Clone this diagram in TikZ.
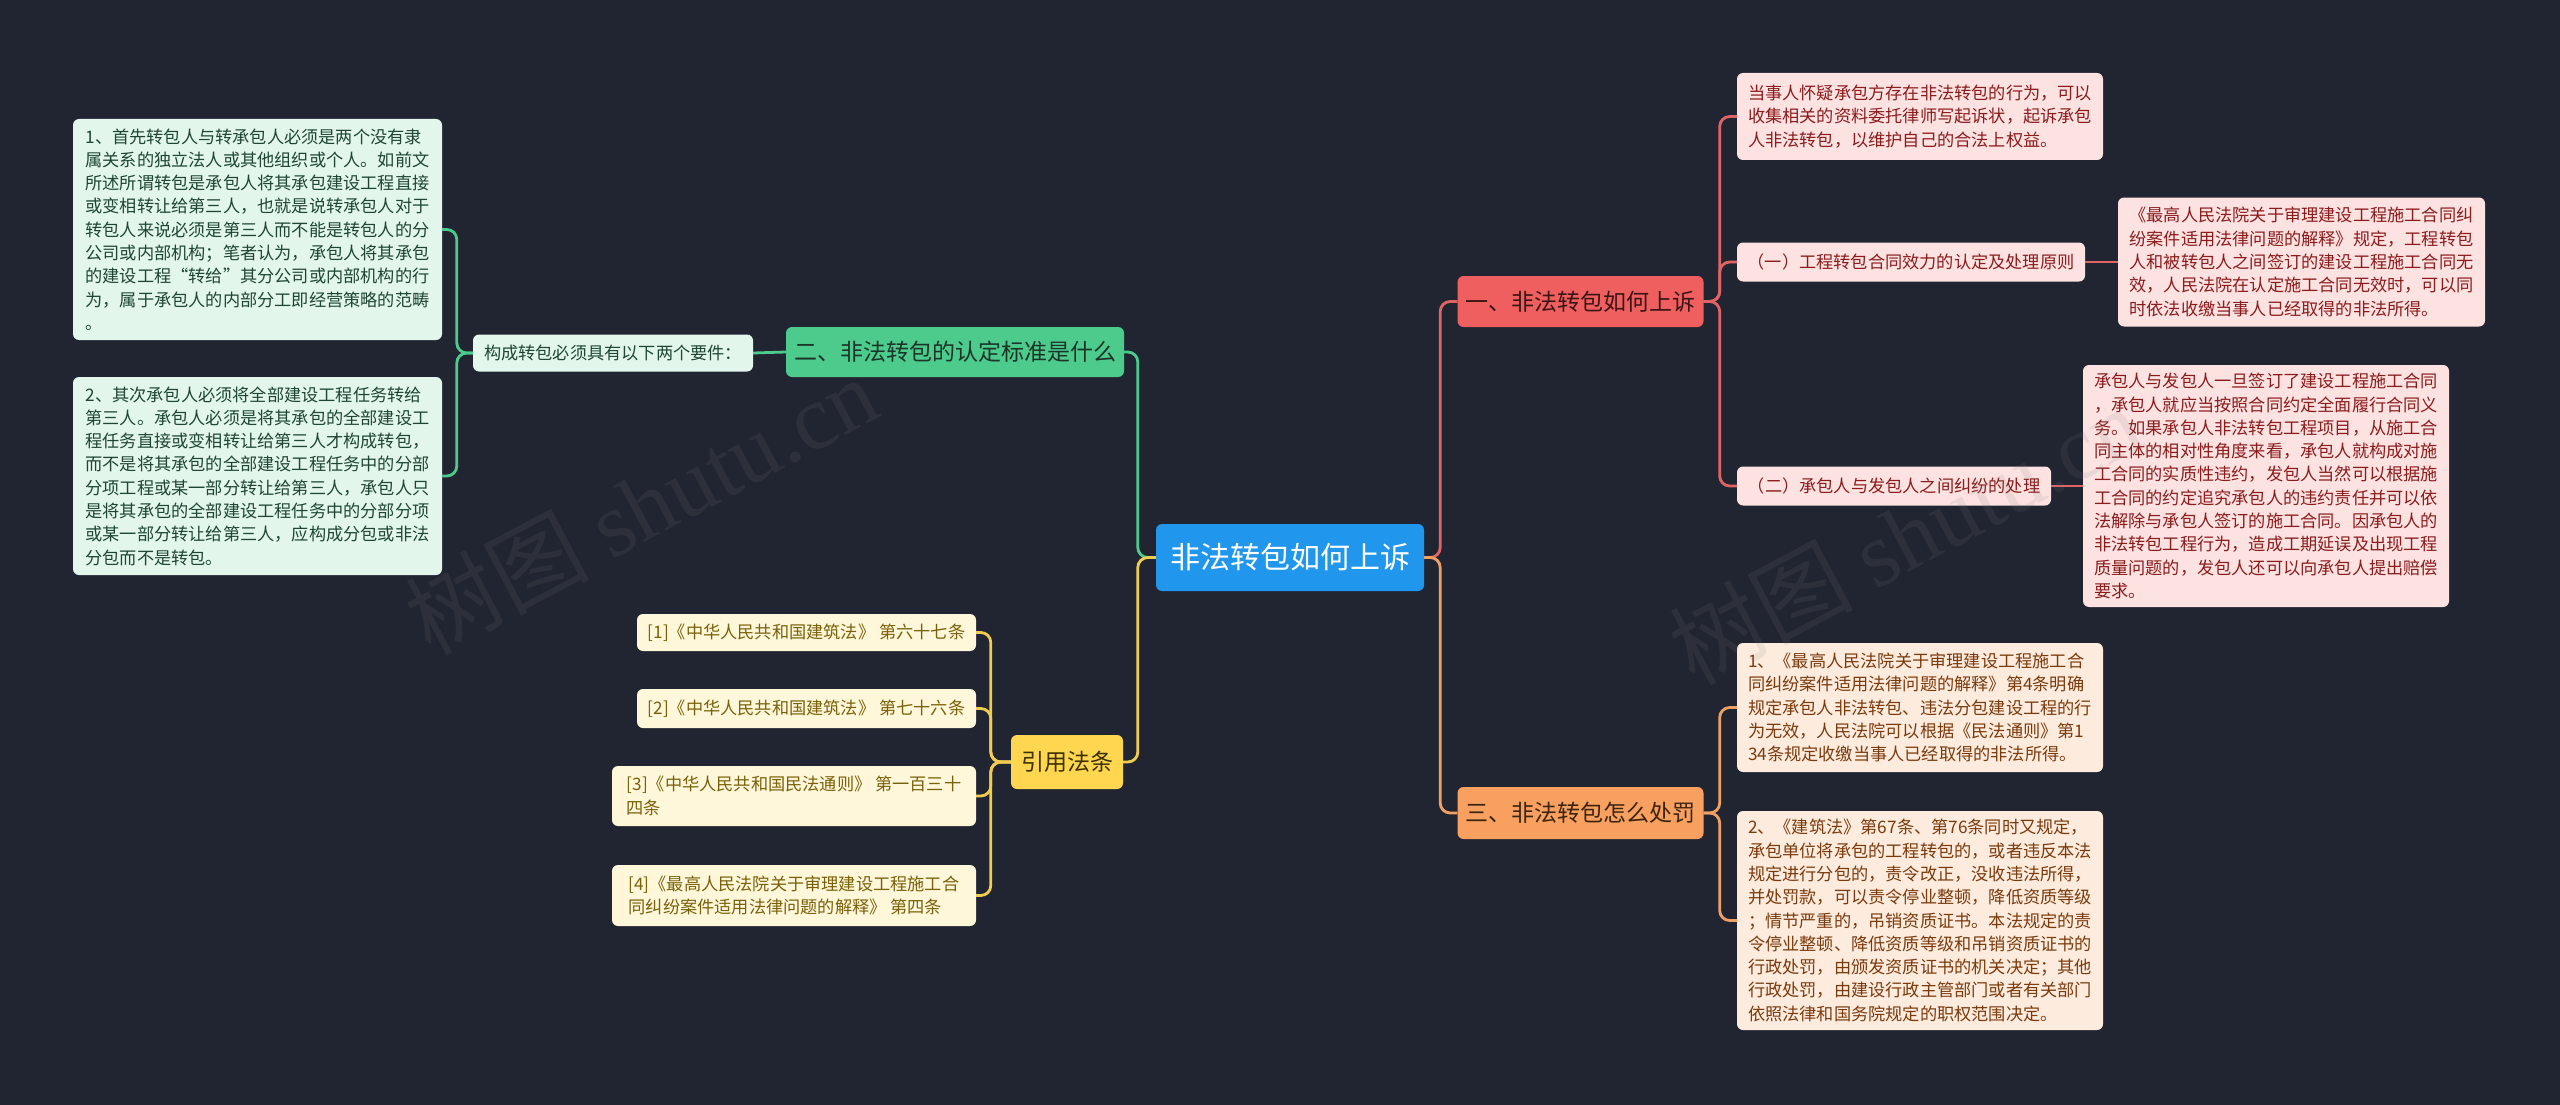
\documentclass[tikz,border=0pt]{standalone}
\usepackage{fontspec}
\setmainfont{Noto Sans CJK SC}
\newfontfamily\wmlatin{Liberation Serif}
\definecolor{bgc}{RGB}{33,37,49}
\definecolor{cblue}{RGB}{32,150,236}
\definecolor{gmain}{RGB}{76,203,141}
\definecolor{gleaf}{RGB}{226,246,236}
\definecolor{gtext}{RGB}{30,70,50}
\definecolor{gdark}{RGB}{28,52,40}
\definecolor{ymain}{RGB}{255,214,80}
\definecolor{yleaf}{RGB}{255,247,218}
\definecolor{ytext}{RGB}{122,96,8}
\definecolor{ydark}{RGB}{60,48,0}
\definecolor{yline}{RGB}{240,205,80}
\definecolor{rmain}{RGB}{240,95,95}
\definecolor{rleaf}{RGB}{253,226,226}
\definecolor{rtext}{RGB}{138,28,28}
\definecolor{rdark}{RGB}{58,21,21}
\definecolor{rline}{RGB}{225,100,100}
\definecolor{omain}{RGB}{247,160,95}
\definecolor{oleaf}{RGB}{253,236,222}
\definecolor{otext}{RGB}{122,58,12}
\definecolor{odark}{RGB}{61,36,16}
\definecolor{oline}{RGB}{240,160,100}
\tikzset{
  x=1pt, y=-1pt,
  basebox/.style={rounded corners=6pt, inner xsep=8pt, inner ysep=0pt, align=left},
  leaf/.style={basebox, font=\fontsize{17.2}{23.3}\selectfont},
  mid/.style={basebox, font=\fontsize{23}{28}\selectfont},
  gleafbox/.style={leaf, fill=gleaf, text=gtext},
  yleafbox/.style={leaf, fill=yleaf, text=ytext},
  rleafbox/.style={leaf, fill=rleaf, text=rtext},
  oleafbox/.style={leaf, fill=oleaf, text=otext},
  conn/.style={line width=2.8pt, rounded corners=10pt},
  gconn/.style={conn, draw=gmain},
  yconn/.style={conn, draw=yline},
  rconn/.style={conn, draw=rline},
  oconn/.style={conn, draw=oline},
}
\begin{document}
\begin{tikzpicture}
\useasboundingbox (0,0) rectangle (2560,1105);
\fill[bgc] (0,0) rectangle (2560,1105);

% central
\node[basebox, fill=cblue, text=white, font=\fontsize{30}{36}\selectfont, minimum width=268pt, minimum height=67pt] (c) at (1290,557.5) {非法转包如何上诉};

% green branch
\node[mid, fill=gmain, text=gdark, minimum width=336pt, minimum height=50pt] (gb) at (955,352) {二、非法转包的认定标准是什么};
\node[gleafbox, minimum width=280pt, minimum height=37pt] (gk) at (613,353) {构成转包必须具有以下两个要件：};
\node[gleafbox, minimum width=369pt, minimum height=221pt] (g1) at (257.5,229.5) {1、首先转包人与转承包人必须是两个没有隶\\属关系的独立法人或其他组织或个人。如前文\\所述所谓转包是承包人将其承包建设工程直接\\或变相转让给第三人，也就是说转承包人对于\\转包人来说必须是第三人而不能是转包人的分\\公司或内部机构；笔者认为，承包人将其承包\\的建设工程“转给”其分公司或内部机构的行\\为，属于承包人的内部分工即经营策略的范畴\\。};
\node[gleafbox, minimum width=369pt, minimum height=198pt] (g2) at (257.5,476) {2、其次承包人必须将全部建设工程任务转给\\第三人。承包人必须是将其承包的全部建设工\\程任务直接或变相转让给第三人才构成转包，\\而不是将其承包的全部建设工程任务中的分部\\分项工程或某一部分转让给第三人，承包人只\\是将其承包的全部建设工程任务中的分部分项\\或某一部分转让给第三人，应构成分包或非法\\分包而不是转包。};

% yellow branch
\node[mid, fill=ymain, text=ydark, minimum width=112pt, minimum height=54pt] (yb) at (1067,762) {引用法条};
\node[yleafbox, minimum width=339pt, minimum height=37pt] (y1) at (806.5,632.5) {[1]《中华人民共和国建筑法》 第六十七条};
\node[yleafbox, minimum width=339pt, minimum height=39pt] (y2) at (806.5,708.5) {[2]《中华人民共和国建筑法》 第七十六条};
\node[yleafbox, minimum width=364pt, minimum height=60pt] (y3) at (794,796) {[3]《中华人民共和国民法通则》 第一百三十\\四条};
\node[yleafbox, minimum width=364pt, minimum height=61pt] (y4) at (794,895.5) {[4]《最高人民法院关于审理建设工程施工合\\同纠纷案件适用法律问题的解释》 第四条};

% red branch
\node[mid, fill=rmain, text=rdark, minimum width=245pt, minimum height=51pt] (rb) at (1580.5,301.5) {一、非法转包如何上诉};
\node[rleafbox, minimum width=366pt, minimum height=87pt] (r1) at (1920,116.5) {当事人怀疑承包方存在非法转包的行为，可以\\收集相关的资料委托律师写起诉状，起诉承包\\人非法转包，以维护自己的合法上权益。};
\node[rleafbox, minimum width=348pt, minimum height=39pt] (r2) at (1911,262) {（一）工程转包合同效力的认定及处理原则};
\node[rleafbox, minimum width=367pt, minimum height=129pt] (r2c) at (2301.5,262) {《最高人民法院关于审理建设工程施工合同纠\\纷案件适用法律问题的解释》规定，工程转包\\人和被转包人之间签订的建设工程施工合同无\\效，人民法院在认定施工合同无效时，可以同\\时依法收缴当事人已经取得的非法所得。};
\node[rleafbox, minimum width=314pt, minimum height=39pt] (r3) at (1894,486) {（二）承包人与发包人之间纠纷的处理};
\node[rleafbox, minimum width=366pt, minimum height=242pt] (r3c) at (2266,486) {承包人与发包人一旦签订了建设工程施工合同\\，承包人就应当按照合同约定全面履行合同义\\务。如果承包人非法转包工程项目，从施工合\\同主体的相对性角度来看，承包人就构成对施\\工合同的实质性违约，发包人当然可以根据施\\工合同的约定追究承包人的违约责任并可以依\\法解除与承包人签订的施工合同。因承包人的\\非法转包工程行为，造成工期延误及出现工程\\质量问题的，发包人还可以向承包人提出赔偿\\要求。};

% orange branch
\node[mid, fill=omain, text=odark, minimum width=245pt, minimum height=52pt] (ob) at (1580.5,813) {三、非法转包怎么处罚};
\node[oleafbox, minimum width=366pt, minimum height=129pt] (o1) at (1920,707.5) {1、《最高人民法院关于审理建设工程施工合\\同纠纷案件适用法律问题的解释》第4条明确\\规定承包人非法转包、违法分包建设工程的行\\为无效，人民法院可以根据《民法通则》第1\\34条规定收缴当事人已经取得的非法所得。};
\node[oleafbox, minimum width=366pt, minimum height=219pt] (o2) at (1920,920.5) {2、《建筑法》第67条、第76条同时又规定，\\承包单位将承包的工程转包的，或者违反本法\\规定进行分包的，责令改正，没收违法所得，\\并处罚款，可以责令停业整顿，降低资质等级\\；情节严重的，吊销资质证书。本法规定的责\\令停业整顿、降低资质等级和吊销资质证书的\\行政处罚，由颁发资质证书的机关决定；其他\\行政处罚，由建设行政主管部门或者有关部门\\依照法律和国务院规定的职权范围决定。};

% connectors
\draw[gconn] (c.west) -- ++(-18,0) |- (gb.east);
\draw[yconn] (c.west) -- ++(-18,0) |- (yb.east);
\draw[rconn] (c.east) -- ++(16,0) |- (rb.west);
\draw[oconn] (c.east) -- ++(16,0) |- (ob.west);

\draw[gconn] (gb.west) -- (gk.east);
\draw[gconn] (gk.west) -- ++(-16,0) |- (g1.east);
\draw[gconn] (gk.west) -- ++(-16,0) |- (g2.east);

\draw[yconn] (yb.west) -- ++(-20,0) |- (y1.east);
\draw[yconn] (yb.west) -- ++(-20,0) |- (y2.east);
\draw[yconn] (yb.west) -- ++(-20,0) |- (y3.east);
\draw[yconn] (yb.west) -- ++(-20,0) |- (y4.east);

\draw[rconn] (rb.east) -- ++(16,0) |- (r1.west);
\draw[rconn] (rb.east) -- ++(16,0) |- (r2.west);
\draw[rconn] (rb.east) -- ++(16,0) |- (r3.west);
\draw[rconn] (r2.east) -- (r2c.west);
\draw[rconn] (r3.east) -- (r3c.west);

\draw[oconn] (ob.east) -- ++(16,0) |- (o1.west);
\draw[oconn] (ob.east) -- ++(16,0) |- (o2.west);

% watermark
\node[text=gray, opacity=0.13, rotate=28, font=\fontsize{92}{100}\selectfont] (wm1) at (641,505) {树图 {\wmlatin shutu.cn}};
\node[text=gray, opacity=0.13, rotate=28, font=\fontsize{92}{100}\selectfont] (wm2) at (1905,535) {树图 {\wmlatin shutu.cn}};
\end{tikzpicture}
\end{document}
